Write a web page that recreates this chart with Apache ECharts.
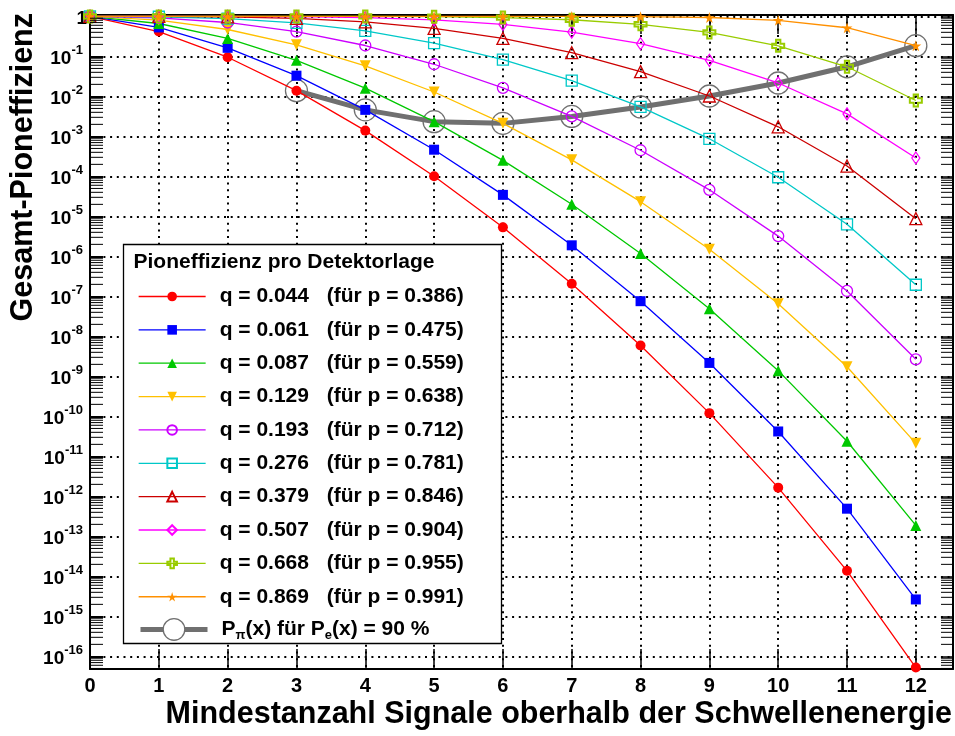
<!DOCTYPE html>
<html>
<head>
<meta charset="utf-8">
<script src="https://cdn.jsdelivr.net/npm/echarts@6/dist/echarts.min.js"></script>
<style>
  html, body { margin: 0; padding: 0; background: #fff; }
  #chart { width: 955px; height: 736px; }
</style>
</head>
<body>
<div id="chart"></div>
<script>
// Minimum number of layers with a signal above threshold (x axis)
const xValues = [0, 1, 2, 3, 4, 5, 6, 7, 8, 9, 10, 11, 12];

// Pion efficiency per detector layer q, and the matching electron efficiency p
const qValues = [0.044, 0.061, 0.087, 0.129, 0.193, 0.276, 0.379, 0.507, 0.668, 0.869];
const pValues = [0.386, 0.475, 0.559, 0.638, 0.712, 0.781, 0.846, 0.904, 0.955, 0.991];

// Total pion efficiency for each q, at x = 0 ... 12
const effQ044 = [1, 0.4173, 0.0954, 0.01390, 1.395e-3, 1.0065e-4, 5.327e-6, 2.078e-7, 5.93e-9, 1.205e-10, 1.654e-12, 1.378e-14, 5.27e-17];
const effQ061 = [1, 0.5303, 0.1639, 0.03295, 4.607e-3, 4.651e-4, 3.452e-5, 1.893e-6, 7.594e-8, 2.172e-9, 4.200e-11, 4.929e-13, 2.654e-15];
const effQ087 = [1, 0.6647, 0.2810, 0.0799, 0.01603, 2.339e-3, 2.522e-4, 2.013e-5, 1.178e-6, 4.919e-8, 1.391e-9, 2.387e-11, 1.880e-13];
const effQ129 = [1, 0.8093, 0.4705, 0.1945, 0.05829, 0.01288, 2.118e-3, 2.594e-4, 2.335e-5, 1.504e-6, 6.565e-8, 1.741e-9, 2.123e-11];
const effQ193 = [1, 0.9238, 0.7048, 0.4168, 0.1872, 0.06363, 0.016346, 3.155e-3, 4.505e-4, 4.619e-5, 3.220e-6, 1.367e-7, 2.671e-9];
const effQ276 = [1, 0.9794, 0.8845, 0.6855, 0.4327, 0.2158, 0.08351, 0.02467, 5.451e-3, 8.710e-4, 9.509e-5, 6.346e-6, 1.954e-7];
const effQ379 = [1, 0.9968, 0.9727, 0.8918, 0.7273, 0.5014, 0.2808, 0.1237, 0.04158, 0.01024, 1.738e-3, 1.815e-4, 8.785e-6];
const effQ507 = [1, 0.9998, 0.9974, 0.9830, 0.9337, 0.8196, 0.6318, 0.4064, 0.2077, 0.08003, 0.02166, 3.655e-3, 2.885e-4];
const effQ668 = [1, 1.0, 0.99997, 0.9996, 0.9964, 0.9818, 0.9350, 0.8251, 0.6355, 0.3970, 0.1837, 0.05499, 7.895e-3];
const effQ869 = [1, 1.0, 1.0, 1.0, 1.0, 0.99997, 0.9997, 0.9977, 0.9863, 0.9389, 0.7991, 0.5209, 0.1854];

// Pion efficiency where the electron efficiency reaches 90 %
const pion90X = [3, 4, 5, 6, 7, 8, 9, 10, 11, 12];
const pion90Values = [0.01390, 4.607e-3, 2.339e-3, 2.118e-3, 3.155e-3, 5.451e-3, 0.010239, 0.021657, 0.05499, 0.1854];

const effTable = [effQ044, effQ061, effQ087, effQ129, effQ193, effQ276, effQ379, effQ507, effQ668, effQ869];

const FONT = '"Liberation Sans", Arial, Helvetica, sans-serif';
const PATH_DOWN_TRIANGLE = 'path://M0,0 L100,0 L50,87 Z';
const PATH_PLUS = 'path://M32,0 H68 V32 H100 V68 H68 V100 H32 V68 H0 V32 H32 Z';
const PATH_STAR = 'path://M50,0 L61,35 L98,35 L68,57 L79,91 L50,70 L21,91 L32,57 L2,35 L39,35 Z';

const lineLooks = [
  { color: '#ff0000', symbol: 'circle', size: 10, open: false },
  { color: '#0000ff', symbol: 'rect', size: 10, open: false },
  { color: '#00c800', symbol: 'triangle', size: 11, open: false },
  { color: '#ffc000', symbol: PATH_DOWN_TRIANGLE, size: 11, open: false },
  { color: '#cc00ff', symbol: 'circle', size: 11, open: true },
  { color: '#00c8c8', symbol: 'rect', size: 11, open: true },
  { color: '#cc0000', symbol: 'triangle', size: 12, open: true },
  { color: '#ff00ff', symbol: 'diamond', size: [8, 12], open: true },
  { color: '#99cc00', symbol: PATH_PLUS, size: 12, open: true, border: 2 },
  { color: '#ff9000', symbol: PATH_STAR, size: 11, open: false }
];
const GRAY = '#707070';

// Axis extents (y in decades)
const Y_MIN = -16.315, Y_MAX = 0.035, X_MAX = 12.54;

const seriesNames = qValues.map(q => 'q = ' + q.toFixed(3));
const pionName = 'Ppi90';

const series = [];

// Thick gray curve first, so the coloured markers sit on top of it
series.push({
  name: pionName,
  type: 'line',
  z: 2,
  data: pion90X.map((x, i) => [x, Math.log10(pion90Values[i])]),
  symbol: 'circle',
  symbolSize: 22,
  showSymbol: true,
  lineStyle: { color: GRAY, width: 5 },
  itemStyle: { color: 'rgba(0,0,0,0)', borderColor: GRAY, borderWidth: 1.3 },
  emphasis: { disabled: true },
  animation: false
});

effTable.forEach((vals, i) => {
  const look = lineLooks[i];
  series.push({
    name: seriesNames[i],
    type: 'line',
    z: 3,
    data: xValues.map((x, j) => [x, Math.log10(vals[j])]),
    symbol: look.symbol,
    symbolSize: look.size,
    showSymbol: true,
    showAllSymbol: true,
    color: look.color,
    lineStyle: { color: look.color, width: 1.3 },
    itemStyle: look.open
      ? { color: 'rgba(255,255,255,0)', borderColor: look.color, borderWidth: look.border || 1.3 }
      : { color: look.color, borderColor: look.color, borderWidth: 0 },
    emphasis: { disabled: true },
    animation: false
  });
});

// Minor ticks of the logarithmic axis at 2..9 times each power of ten
const minorTickPos = [];
for (let e = -17; e <= 0; e++) {
  for (let m = 2; m <= 9; m++) {
    const v = e + Math.log10(m);
    if (v > Y_MIN && v < Y_MAX) minorTickPos.push([0, v]);
  }
}
series.push({
  type: 'custom',
  name: 'minorTicks',
  silent: true,
  clip: false,
  z: 4,
  data: minorTickPos,
  renderItem(params, api) {
    const y = api.coord([0, api.value(1)])[1];
    const cs = params.coordSys;
    return {
      type: 'group',
      children: [
        { type: 'line', shape: { x1: cs.x, y1: y, x2: cs.x + 13, y2: y }, style: { stroke: '#000', lineWidth: 1 } },
        { type: 'line', shape: { x1: cs.x + cs.width - 12, y1: y, x2: cs.x + cs.width, y2: y }, style: { stroke: '#000', lineWidth: 1 } }
      ]
    };
  },
  animation: false
});

const gridDots = { color: '#000', width: 2, type: [2, 4.7] };

function yLabel(v) {
  if (Math.abs(v - Math.round(v)) > 1e-6) return '';
  const e = Math.round(v);
  return e === 0 ? '{b|1}' : '{b|10}{s|' + e + '}';
}
function xLabel(v) {
  return Math.abs(v - Math.round(v)) > 1e-6 ? '' : String(Math.round(v));
}

const option = {
  animation: false,
  backgroundColor: '#fff',
  grid: { left: 90, right: 2, top: 15, bottom: 67, containLabel: false },
  xAxis: [
    {
      type: 'value', position: 'bottom', min: 0, max: X_MAX, interval: 1,
      axisLine: { onZero: false, lineStyle: { color: '#000', width: 2 } },
      axisTick: { inside: true, length: 20, lineStyle: { color: '#000', width: 1.5 } },
      axisLabel: {
        formatter: xLabel, showMaxLabel: false, margin: 7,
        color: '#000', fontFamily: FONT, fontWeight: 'bold', fontSize: 20
      },
      splitLine: { show: true, lineStyle: gridDots }
    },
    {
      type: 'value', position: 'top', min: 0, max: X_MAX, interval: 1,
      axisLine: { onZero: false, lineStyle: { color: '#000', width: 2 } },
      axisTick: { inside: true, length: 19, lineStyle: { color: '#000', width: 1.5 } },
      axisLabel: { show: false },
      splitLine: { show: false }
    }
  ],
  yAxis: [
    {
      type: 'value', position: 'left', min: Y_MIN, max: Y_MAX, splitNumber: 16,
      axisLine: { onZero: false, lineStyle: { color: '#000', width: 2 } },
      axisTick: { inside: true, length: 13, lineStyle: { color: '#000', width: 2 } },
      axisLabel: {
        formatter: yLabel, showMinLabel: false, showMaxLabel: false, margin: 3,
        padding: [4, 0, 0, 0],
        rich: {
          b: { fontFamily: FONT, fontWeight: 'bold', fontSize: 19, lineHeight: 20, verticalAlign: 'bottom', color: '#000' },
          s: { fontFamily: FONT, fontWeight: 'bold', fontSize: 13, lineHeight: 13, padding: [0, 4, 11, 0], verticalAlign: 'bottom', color: '#000' }
        }
      },
      splitLine: { show: true, lineStyle: gridDots }
    },
    {
      type: 'value', position: 'right', min: Y_MIN, max: Y_MAX, splitNumber: 16,
      axisLine: { onZero: false, lineStyle: { color: '#000', width: 2 } },
      axisTick: { inside: true, length: 12, lineStyle: { color: '#000', width: 1.5 } },
      axisLabel: { show: false },
      splitLine: { show: false }
    }
  ],
  legend: [
    {
      data: seriesNames,
      orient: 'vertical', left: 138, top: 286, z: 6, padding: 0,
      itemWidth: 67, itemHeight: 12, itemGap: 12.36,
      selectedMode: false,
      lineStyle: { width: 1.3 },
      formatter(name) {
        const i = seriesNames.indexOf(name);
        return '{q|' + name + '}{p|(für p = ' + pValues[i].toFixed(3) + ')}';
      },
      textStyle: {
        rich: {
          q: { fontFamily: FONT, fontWeight: 'bold', fontSize: 21, lineHeight: 22, width: 107, padding: [0, 0, 0, 9], color: '#000' },
          p: { fontFamily: FONT, fontWeight: 'bold', fontSize: 21, lineHeight: 22, color: '#000' }
        }
      }
    },
    {
      data: [pionName],
      orient: 'vertical', left: 138, top: 618, z: 6, padding: 0,
      itemWidth: 67, itemHeight: 27,
      selectedMode: false,
      lineStyle: { width: 5 },
      itemStyle: { color: '#fff', borderWidth: 1.3 },
      formatter() {
        return '{t0|P}{sub|π}{t|(x) für P}{sub|e}{t|(x) = 90 %}';
      },
      textStyle: {
        rich: {
          t0: { fontFamily: FONT, fontWeight: 'bold', fontSize: 21, lineHeight: 22, verticalAlign: 'top', padding: [0, 0, 0, 9], color: '#000' },
          t: { fontFamily: FONT, fontWeight: 'bold', fontSize: 21, lineHeight: 22, verticalAlign: 'top', color: '#000' },
          sub: { fontFamily: FONT, fontWeight: 'bold', fontSize: 13, lineHeight: 13, verticalAlign: 'top', padding: [10.5, 0, 0, 0], color: '#000' }
        }
      }
    }
  ],
  graphic: [
    {
      type: 'rect', z: 5,
      shape: { x: 123.5, y: 244.5, width: 378, height: 399 },
      style: { fill: '#fff', stroke: '#000', lineWidth: 1.3 }
    },
    {
      type: 'text', z: 6, x: 133.5, y: 262,
      style: { text: 'Pioneffizienz pro Detektorlage', font: 'bold 21px ' + FONT, fill: '#000', align: 'left', verticalAlign: 'middle' }
    },
    {
      type: 'text', z: 6, x: 952, y: 715,
      style: { text: 'Mindestanzahl Signale oberhalb der Schwellenenergie', font: 'bold 30.5px ' + FONT, fill: '#000', align: 'right', verticalAlign: 'middle' }
    },
    {
      type: 'text', z: 6, x: 24, y: 13, rotation: Math.PI / 2,
      style: { text: 'Gesamt-Pioneffizienz', font: 'bold 30.5px ' + FONT, fill: '#000', align: 'right', verticalAlign: 'middle' }
    }
  ],
  series: series
};

const chart = echarts.init(document.getElementById('chart'), null, { renderer: 'canvas' });
chart.setOption(option);
</script>
</body>
</html>
